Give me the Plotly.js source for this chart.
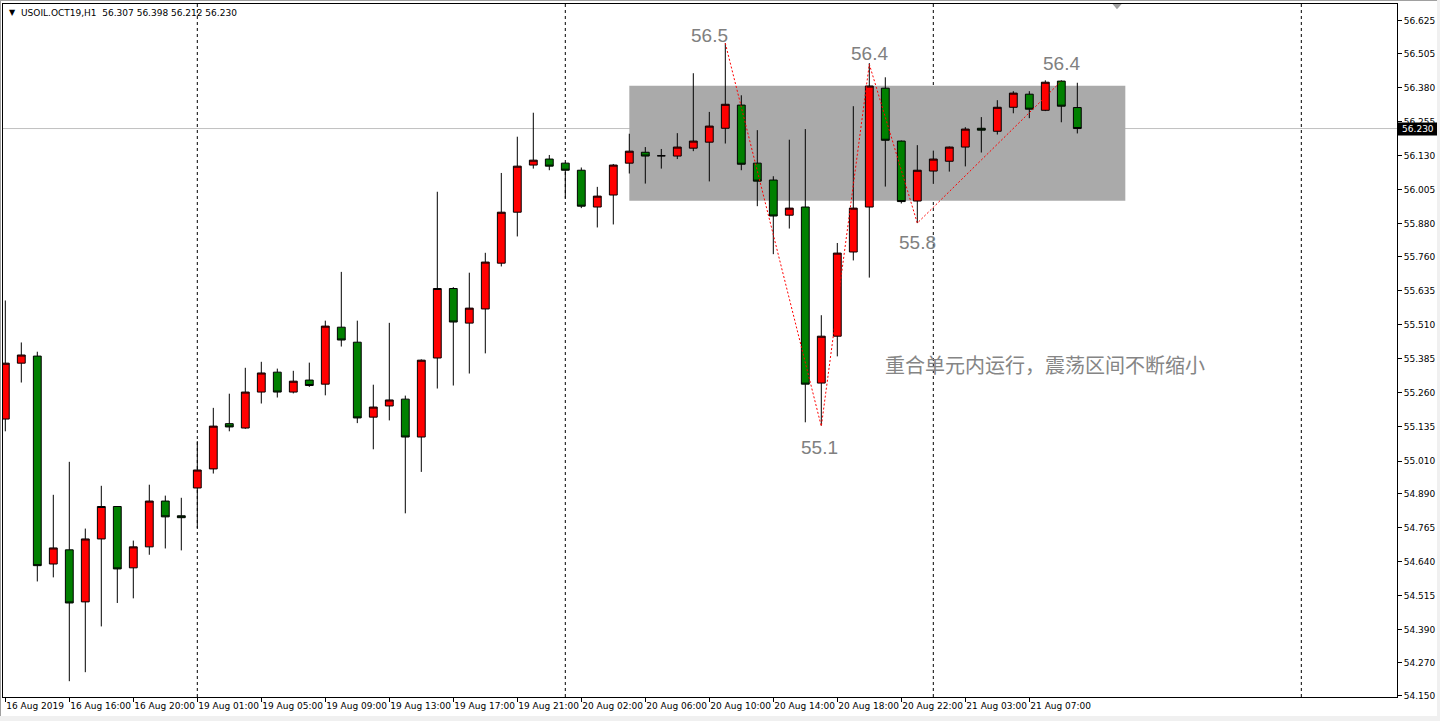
<!DOCTYPE html>
<html><head><meta charset="utf-8">
<script src="https://cdn.plot.ly/plotly-3.0.1.min.js"></script>
<style>
html,body{margin:0;padding:0;background:#f0f0f0;width:1440px;height:721px;overflow:hidden}
#wrap{position:absolute;left:0;top:0;width:1436px;height:715px;border-left:1px solid #a0a0a0;border-top:1px solid #a0a0a0;background:#fff}
#chart{width:1436px;height:715px}
</style></head><body><div id="wrap"><div id="chart"></div></div>
<script>
// ---- data (USOIL.OCT19, H1) ----
const openP = [55.164,55.369,55.395,54.632,54.684,54.493,54.724,54.843,54.618,54.695,
  54.863,54.809,54.911,54.981,55.147,55.131,55.263,55.336,55.263,55.307,
  55.292,55.501,55.446,55.171,55.212,55.237,55.098,55.388,55.643,55.516,
  55.568,55.736,55.923,56.096,56.118,56.103,56.077,55.942,55.986,56.103,
  56.143,56.130,56.129,56.158,56.180,56.231,56.316,56.103,56.041,55.912,
  55.942,55.296,55.468,55.777,55.942,56.378,56.184,55.964,56.074,56.110,
  56.162,56.231,56.220,56.308,56.356,56.297,56.404,56.307];
const highP = [55.599,55.445,55.411,54.886,55.007,54.762,54.919,54.843,54.718,54.923,
  54.883,54.875,55.083,55.205,55.257,55.352,55.374,55.349,55.341,55.371,
  55.525,55.704,55.525,55.290,55.517,55.250,55.383,55.998,55.648,55.701,
  55.774,56.067,56.200,56.288,56.133,56.105,56.087,56.016,56.100,56.211,
  56.162,56.155,56.213,56.433,56.291,56.543,56.352,56.224,56.055,56.189,
  56.228,55.545,55.810,56.312,56.470,56.418,56.186,56.169,56.149,56.164,
  56.235,56.272,56.334,56.367,56.367,56.407,56.407,56.398];
const lowP = [55.119,55.298,54.568,54.583,54.202,54.235,54.403,54.489,54.506,54.666,
  54.689,54.682,54.764,54.964,55.119,55.128,55.221,55.243,55.258,55.282,
  55.251,55.430,55.149,55.053,55.159,54.818,54.970,55.276,55.287,55.331,
  55.405,55.724,55.834,56.083,56.077,55.973,55.938,55.867,55.878,56.065,
  56.028,56.083,56.118,56.147,56.036,56.175,56.077,55.945,55.769,55.863,
  55.152,55.140,55.394,55.746,55.683,56.017,55.955,55.883,56.027,56.072,
  56.091,56.142,56.208,56.286,56.268,56.294,56.253,56.212];
const closeP = [55.369,55.399,54.626,54.691,54.489,54.724,54.843,54.614,54.695,54.863,
  54.805,54.802,54.977,55.138,55.135,55.263,55.333,55.263,55.303,55.287,
  55.505,55.454,55.168,55.208,55.234,55.098,55.380,55.643,55.520,55.571,
  55.740,55.923,56.092,56.114,56.092,56.077,55.945,55.982,56.096,56.147,
  56.129,56.130,56.162,56.184,56.239,56.319,56.099,56.037,55.909,55.938,
  55.292,55.468,55.773,55.938,56.386,56.187,55.962,56.077,56.118,56.162,
  56.228,56.224,56.308,56.360,56.301,56.400,56.312,56.230];

const xTickBars = [0,4,8,12,16,20,24,28,32,36,40,44,48,52,56,60,64];
const xTickLabels = ['16 Aug 2019','16 Aug 16:00','16 Aug 20:00','19 Aug 01:00','19 Aug 05:00',
  '19 Aug 09:00','19 Aug 13:00','19 Aug 17:00','19 Aug 21:00','20 Aug 02:00','20 Aug 06:00',
  '20 Aug 10:00','20 Aug 14:00','20 Aug 18:00','20 Aug 22:00','21 Aug 03:00','21 Aug 07:00'];
const daySeparators = [12,35,58,81];
const yTickVals = [56.625,56.505,56.380,56.255,56.130,56.005,55.880,55.760,55.635,55.510,
  55.385,55.260,55.135,55.010,54.890,54.765,54.640,54.515,54.390,54.270,54.150];

const zigBars = [45,51,54,57,66];
const zigPrices = [56.543,55.137,56.466,55.883,56.404];

const pivotLabels = ['56.5','55.1','56.4','55.8','56.4'];
const pivotBars = [44,50.9,54,57,66];
const pivotPrices = [56.570,55.059,56.504,55.813,56.470];

const zoneBars = [39,70];
const zonePrices = [55.965,56.387];
const lastPrice = 56.230;
const headerText = 'USOIL.OCT19,H1\u00a0\u00a056.307 56.398 56.212 56.230';
const noteText = '重合单元内运行，震荡区间不断缩小';
const noteBar = 65, notePrice = 55.363;

const barIdx = openP.map((_, i) => i);

const traces = [
  {type:'candlestick', x:barIdx, open:openP, high:highP, low:lowP, close:closeP,
   increasing:{line:{color:'#000',width:1}, fillcolor:'#ff0000'},
   decreasing:{line:{color:'#000',width:1}, fillcolor:'#008000'},
   whiskerwidth:0, hoverinfo:'skip', showlegend:false},
  {type:'scatter', mode:'lines', x:zigBars, y:zigPrices,
   line:{color:'#ff0000', width:1, dash:'2px,2px'}, hoverinfo:'skip', showlegend:false}
];

const shapes = [
  {type:'rect', xref:'x', yref:'y', x0:zoneBars[0], x1:zoneBars[1], y0:zonePrices[0], y1:zonePrices[1],
   fillcolor:'#aaaaaa', line:{width:0}, layer:'below'},
  {type:'line', xref:'paper', x0:0, x1:1, yref:'y', y0:lastPrice, y1:lastPrice,
   line:{color:'#c0c0c0', width:1}, layer:'below'}
];
daySeparators.forEach(d => shapes.push({type:'line', xref:'x', x0:d, x1:d, yref:'paper', y0:0, y1:1,
  line:{color:'#000', width:1, dash:'3px,3px'}, layer:'below'}));
shapes.push({type:'path', xref:'x', yref:'y', path:'M 69.2,56.687 L 69.77,56.687 L 69.48,56.668 Z',
  fillcolor:'#a0a0a0', line:{width:0}});

const annotations = [
  {xref:'paper', yref:'paper', x:0, y:1, xanchor:'left', yanchor:'top', xshift:4, yshift:-2,
   text:'▼', showarrow:false, font:{family:'DejaVu Sans', size:8, color:'#000'}},
  {xref:'paper', yref:'paper', x:0, y:1, xanchor:'left', yanchor:'top', xshift:16, yshift:-2,
   text:headerText, showarrow:false, font:{family:'DejaVu Sans', size:9, color:'#000'}},
  {xref:'paper', yref:'y', x:1, y:lastPrice, xanchor:'left', yanchor:'middle', text:'56.230',
   showarrow:false, bgcolor:'#000', width:38, height:10, borderpad:1,
   font:{family:'DejaVu Sans', size:9, color:'#fff'}},
  {xref:'x', yref:'y', x:noteBar, y:notePrice, text:noteText, showarrow:false,
   font:{family:'Noto Sans CJK SC', size:20, color:'#858585'}}
];
pivotLabels.forEach((t, i) => annotations.push({xref:'x', yref:'y', x:pivotBars[i], y:pivotPrices[i],
  text:t, showarrow:false, font:{family:'Liberation Sans, Arial', size:19, color:'#808080'}}));

const layout = {
  width:1436, height:715,
  margin:{l:2, r:40, t:3, b:19, pad:0},
  paper_bgcolor:'#fff', plot_bgcolor:'#fff',
  showlegend:false, hovermode:false, dragmode:false,
  font:{family:'DejaVu Sans, Tahoma, sans-serif', size:9, color:'#000'},
  xaxis:{range:[-0.144, 86.98], showgrid:false, zeroline:false, showline:true, linecolor:'#000',
    linewidth:1, mirror:true, ticks:'outside', ticklen:4, tickcolor:'#000', tickwidth:1,
    tickmode:'array', tickvals:xTickBars, ticktext:xTickLabels, ticklabelposition:'outside right',
    tickangle:0, automargin:false,
    rangeslider:{visible:false}, fixedrange:true, tickfont:{family:'DejaVu Sans', size:9, color:'#000'}},
  yaxis:{side:'right', range:[54.144, 56.687], showgrid:false, zeroline:false, showline:true,
    linecolor:'#000', linewidth:1, mirror:true, ticks:'outside', ticklen:4, tickcolor:'#000',
    tickmode:'array', tickvals:yTickVals, tickformat:'.3f', fixedrange:true, automargin:false,
    tickfont:{family:'DejaVu Sans', size:9, color:'#000'}},
  shapes:shapes, annotations:annotations
};

Plotly.newPlot('chart', traces, layout, {staticPlot:true, displayModeBar:false});
</script></body></html>
